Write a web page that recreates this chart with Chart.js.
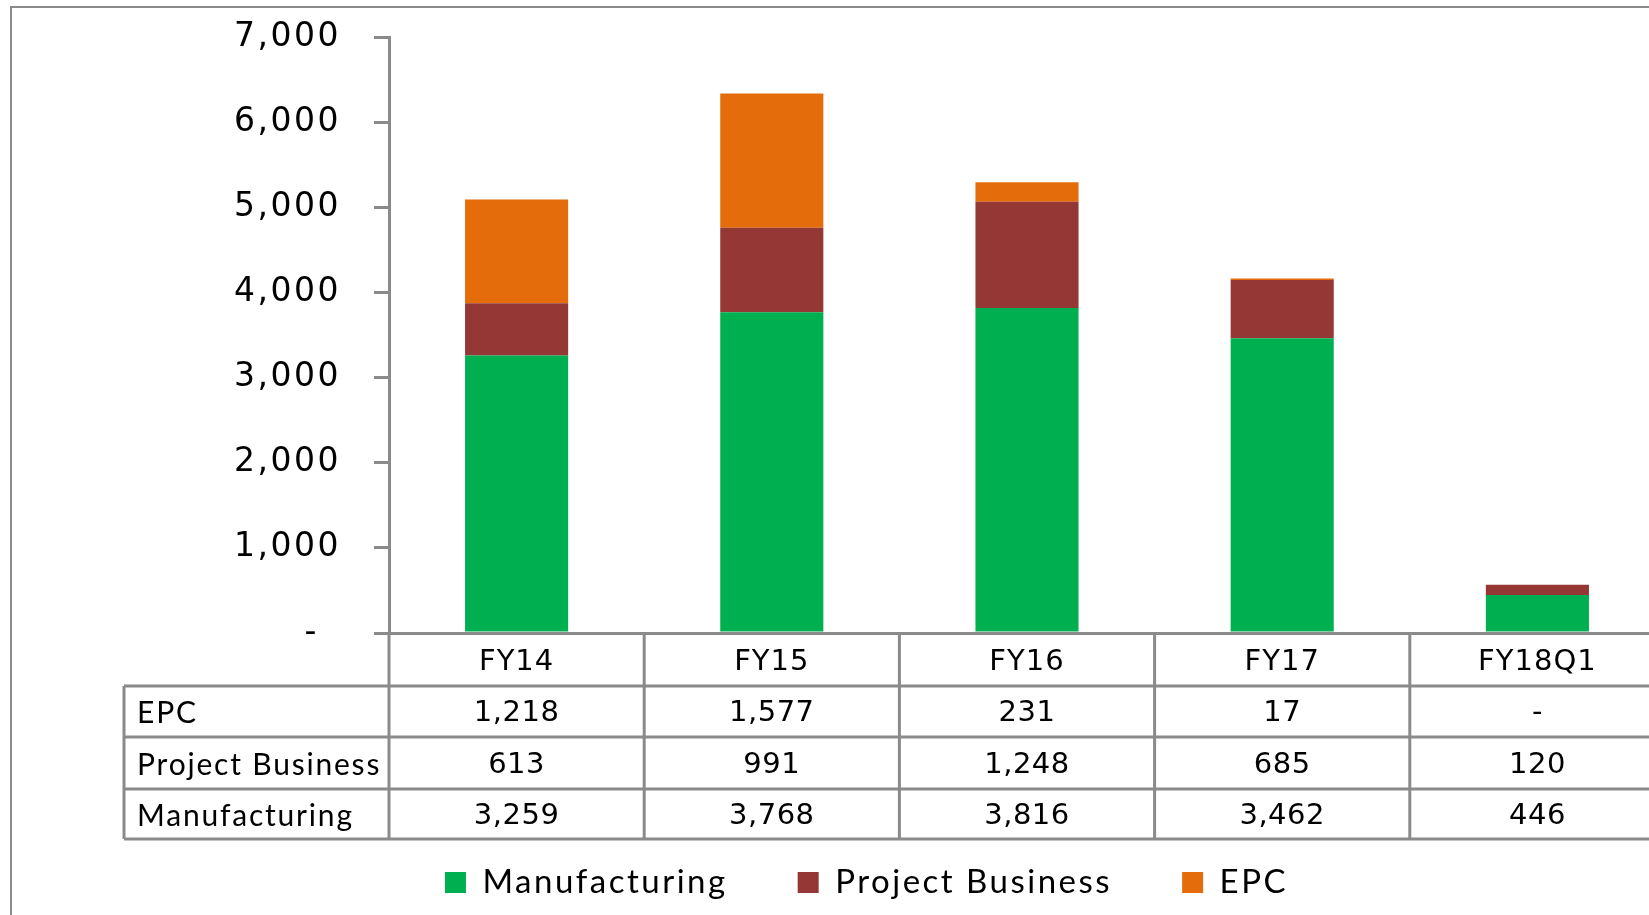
<!DOCTYPE html>
<html>
<head>
<meta charset="utf-8">
<script src="https://cdn.jsdelivr.net/npm/chart.js@4.4.0/dist/chart.umd.min.js"></script>
<style>
    html, body { margin: 0; padding: 0; background: #fff; overflow: hidden; }
    #wrap { position: absolute; left: 0; top: 0; width: 1725px; height: 915px; }
</style>
</head>
<body>
<div id="wrap"><canvas id="chart" width="1725" height="915"></canvas></div>
<script>
const categories = ['FY14', 'FY15', 'FY16', 'FY17', 'FY18Q1'];
const manufacturing = [3259, 3768, 3816, 3462, 446];
const projectBusiness = [613, 991, 1248, 685, 120];
const epc = [1218, 1577, 231, 17, 0];
const yTicks = [0, 1000, 2000, 3000, 4000, 5000, 6000, 7000];

const gray = '#8a8a8a';
const numFont = '"DejaVu Sans", sans-serif';
const labelFont = 'Lato, sans-serif';

const fmt = (v) => v === 0 ? '-' : v.toLocaleString('en-US');

// rows of the data table under the axis, top to bottom
const tableRows = [
    {label: 'EPC', data: epc},
    {label: 'Project Business', data: projectBusiness},
    {label: 'Manufacturing', data: manufacturing},
];

// the original text is spread out a bit, so give chart text some letter spacing
const spacing = {
    id: 'spacing',
    beforeUpdate(chart) {
        chart.ctx.letterSpacing = '2.5px';
    },
};

const outerBorder = {
    id: 'outerBorder',
    beforeDraw(chart) {
        const ctx = chart.ctx;
        ctx.save();
        ctx.strokeStyle = gray;
        ctx.lineWidth = 2;
        ctx.strokeRect(11, 7, 1800, 1000);
        ctx.restore();
    },
};

const dataTable = {
    id: 'dataTable',
    afterDraw(chart) {
        const {ctx, chartArea, scales: {x}} = chart;
        const step = x.getPixelForValue(1) - x.getPixelForValue(0);
        const left = chartArea.left;
        const right = x.getPixelForValue(categories.length - 1) + step / 2;
        const tableLeft = 124;
        const top = chartArea.bottom;
        const rowY = [top, top + 53, top + 104, top + 156, top + 206];

        ctx.save();
        ctx.strokeStyle = gray;
        ctx.lineWidth = 3;
        ctx.beginPath();
        for (let r = 1; r < rowY.length; r++) {
            ctx.moveTo(tableLeft, rowY[r]);
            ctx.lineTo(right + 2, rowY[r]);
        }
        ctx.moveTo(tableLeft, rowY[1]);
        ctx.lineTo(tableLeft, rowY[4]);
        for (let i = 0; i <= categories.length; i++) {
            const cx = left + i * step;
            ctx.moveTo(cx, rowY[0]);
            ctx.lineTo(cx, rowY[4]);
        }
        ctx.stroke();

        ctx.fillStyle = '#000';
        ctx.textBaseline = 'middle';
        ctx.textAlign = 'center';
        ctx.font = '29px ' + numFont;
        ctx.letterSpacing = '1px';
        categories.forEach((c, i) => {
            ctx.fillText(c, x.getPixelForValue(i), (rowY[0] + rowY[1]) / 2 + 3);
        });
        tableRows.forEach((row, r) => {
            const cy = (rowY[r + 1] + rowY[r + 2]) / 2 + 2;
            ctx.textAlign = 'left';
            ctx.font = '30px ' + labelFont;
            ctx.letterSpacing = '1.8px';
            ctx.fillText(row.label, tableLeft + 13, cy);
            ctx.textAlign = 'center';
            ctx.font = '29px ' + numFont;
            ctx.letterSpacing = '0.5px';
            row.data.forEach((v, i) => {
                ctx.fillText(fmt(v), x.getPixelForValue(i), cy);
            });
        });
        ctx.restore();
    },
};

const barOpts = {barPercentage: 0.404, categoryPercentage: 1.0, borderWidth: 0};

new Chart(document.getElementById('chart'), {
    type: 'bar',
    data: {
        labels: categories,
        datasets: [
            {label: 'Manufacturing', data: manufacturing, backgroundColor: '#00B050', ...barOpts},
            {label: 'Project Business', data: projectBusiness, backgroundColor: '#953735', ...barOpts},
            {label: 'EPC', data: epc, backgroundColor: '#E46C0A', ...barOpts},
        ],
    },
    options: {
        responsive: false,
        animation: false,
        layout: {padding: {top: 37, left: 68, right: 60, bottom: 6}},
        scales: {
            x: {
                stacked: true,
                grid: {display: false},
                border: {display: true, color: gray, width: 3},
                ticks: {display: false},
                afterFit(scale) { scale.height = 163; },
            },
            y: {
                stacked: true,
                min: 0,
                max: 7000,
                afterBuildTicks(scale) { scale.ticks = yTicks.map((v) => ({value: v})); },
                grid: {drawOnChartArea: false, drawTicks: true, tickLength: 15, color: gray, lineWidth: 3},
                border: {display: true, color: gray, width: 3},
                ticks: {
                    color: '#000',
                    padding: 33,
                    font: {family: numFont, size: 33},
                    callback: (v) => v === 0 ? '- \u2009' : v.toLocaleString('en-US'),
                },
                afterFit(scale) {
                    scale.width = 389 - 68;
                    scale.paddingTop = 0;
                    scale.paddingBottom = 0;
                },
            },
        },
        plugins: {
            legend: {
                position: 'bottom',
                labels: {
                    color: '#000',
                    font: {family: labelFont, size: 33},
                    boxWidth: 21,
                    boxHeight: 21,
                    padding: 70,
                },
            },
            tooltip: {enabled: false},
        },
    },
    plugins: [spacing, outerBorder, dataTable],
});
</script>
</body>
</html>
